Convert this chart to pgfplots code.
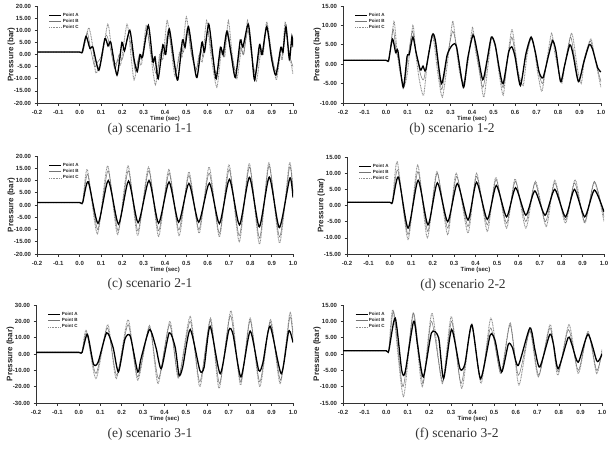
\documentclass[border=0pt]{standalone}
\usepackage{fontspec}
\setmainfont{Liberation Sans}
\newfontfamily\capfont{Liberation Serif}
\usepackage{pgfplots}
\pgfplotsset{compat=1.18}

\pgfplotsset{
  pressure/.style={
    scale only axis,
    anchor=south west,
    xmin=-0.2, xmax=1.0,
    axis x line*=bottom, axis y line*=left,
    axis line style={black!80, line width=0.6pt},
    tick align=outside,
    major tick length=2.5pt,
    tick style={black!80, line width=0.6pt},
    xtick={-0.2,-0.1,0,0.1,0.2,0.3,0.4,0.5,0.6,0.7,0.8,0.9,1.0},
    xticklabels={-0.2,-0.1,0.0,0.1,0.2,0.3,0.4,0.5,0.6,0.7,0.8,0.9,1.0},
    ticklabel style={font=\fontsize{6}{7}\selectfont\bfseries, text=black!85},
    xticklabel style={yshift=-1pt},
    xlabel={Time (sec)}, ylabel={Pressure (bar)},
    every axis x label/.style={at={(axis description cs:0.5,0)}, anchor=center,
      yshift=-16pt, font=\fontsize{6}{7}\selectfont\bfseries, text=black!85},
    every axis y label/.style={at={(axis description cs:-0.1,0.5)}, anchor=center,
      rotate=90, font=\fontsize{8}{9}\selectfont\bfseries, text=black!85},
    legend style={at={(0.045,0.94)}, anchor=north west, draw=none, fill=none,
      font=\fontsize{4.5}{5}\selectfont\bfseries, inner sep=0pt,
      nodes={inner sep=0.8pt}, text=black!85},
    legend cell align=left,
    legend image code/.code={\draw[#1] (0pt,0pt) -- (12pt,0pt);},
    reverse legend,
  },
  pA/.style={black, line width=1.3pt, smooth, tension=0.4},
  pB/.style={black!55, line width=0.5pt, smooth, tension=0.4},
  pC/.style={black!45, line width=0.9pt, dash pattern=on 0.9pt off 0.7pt, smooth, tension=0.4},
}

\begin{document}
\begin{tikzpicture}
\path[use as bounding box] (0,0) rectangle (609pt,448pt);

% (a) scenario 1-1
\begin{axis}[pressure, at={(37pt,345pt)}, width=256pt, height=97pt,
  ymin=-20, ymax=20, ytick={-20,-15,-10,-5,0,5,10,15,20},
  yticklabels={-20.00,-15.00,-10.00,-5.00,0.00,5.00,10.00,15.00,20.00}]
\addplot[pC] coordinates {(-0.2,1) (-0.1,1) (0.0,1) (0.015,1) (0.042,11) (0.06,4) (0.075,-7.5) (0.09,-5) (0.105,-1) (0.132,12.5) (0.15,2) (0.165,-4) (0.18,-2) (0.193,-4) (0.222,12.5) (0.24,0) (0.255,-10.5) (0.275,-2) (0.29,-4) (0.312,12) (0.33,2) (0.355,-12.5) (0.375,0) (0.39,-2) (0.41,14) (0.428,3) (0.447,-9) (0.468,1) (0.48,-1) (0.5,15.5) (0.52,2) (0.545,-7) (0.56,0) (0.575,-3) (0.595,14) (0.615,0) (0.643,-13.5) (0.665,2) (0.68,-1) (0.697,14) (0.715,0) (0.737,-10) (0.757,2) (0.77,0) (0.787,14) (0.805,0) (0.828,-11) (0.85,2) (0.86,0) (0.877,13.5) (0.9,0) (0.922,-10.5) (0.94,0) (0.95,-2) (0.963,13.5) (0.98,2) (1.0,-8)};
\addlegendentry{Point C}
\addplot[pB] coordinates {(-0.2,1) (-0.1,1) (0.0,1) (0.014,1) (0.035,9) (0.052,2) (0.07,-5) (0.085,-3) (0.1,-1) (0.125,8) (0.145,2) (0.165,-6) (0.185,0) (0.2,-2) (0.228,8) (0.248,0) (0.262,-7) (0.28,0) (0.29,-2) (0.316,9) (0.335,0) (0.36,-8) (0.383,2) (0.397,0) (0.415,10) (0.435,0) (0.452,-7) (0.475,3) (0.487,1) (0.505,11) (0.525,0) (0.547,-6) (0.567,2) (0.58,-1) (0.6,10) (0.62,0) (0.641,-8) (0.663,2) (0.675,-1) (0.693,10) (0.712,0) (0.733,-7) (0.755,3) (0.767,0) (0.789,10) (0.806,0) (0.825,-8) (0.847,3) (0.858,0) (0.877,11) (0.9,0) (0.92,-7) (0.943,2) (0.953,0) (0.965,10) (0.983,0) (1.0,-5)};
\addlegendentry{Point B}
\addplot[pA] coordinates {(-0.2,1) (-0.1,1) (0.0,1) (0.012,1) (0.03,7.5) (0.048,2.5) (0.062,3) (0.09,-6.5) (0.118,6.5) (0.133,3.5) (0.146,5) (0.175,-8.5) (0.198,5) (0.21,1.5) (0.235,10) (0.255,-2) (0.27,-7) (0.283,0) (0.295,-1) (0.322,12) (0.343,-3) (0.353,-1) (0.368,-10) (0.39,4) (0.403,0) (0.42,10.5) (0.443,-3) (0.46,-10.5) (0.482,6) (0.494,3) (0.51,11.5) (0.533,-2) (0.55,-9.5) (0.573,5) (0.585,1) (0.605,12.5) (0.625,-1) (0.64,-10) (0.66,3) (0.672,0) (0.69,9.5) (0.71,0) (0.73,-9.5) (0.753,6) (0.765,3) (0.79,12.5) (0.805,2) (0.82,-10.5) (0.843,4) (0.855,0) (0.877,11.5) (0.9,-2) (0.92,-8.5) (0.943,3) (0.953,1) (0.967,11.5) (0.983,-2) (0.995,7.5) (1.0,3)};
\addlegendentry{Point A}
\end{axis}

% (b) scenario 1-2
\begin{axis}[pressure, at={(343pt,345pt)}, width=258pt, height=97pt,
  ymin=-10, ymax=15, ytick={-10,-5,0,5,10,15},
  yticklabels={-10.00,-5.00,0.00,5.00,10.00,15.00}]
\addplot[pC] coordinates {(-0.2,1) (-0.1,1) (0.0,1) (0.014,1) (0.037,11) (0.05,4) (0.065,-2) (0.085,-5.5) (0.1,-2) (0.125,10) (0.14,2) (0.155,-4) (0.175,-8) (0.195,2) (0.215,7) (0.225,5) (0.24,-2) (0.262,-8.5) (0.285,0) (0.31,11) (0.325,5) (0.342,-2) (0.36,-5) (0.38,0) (0.402,9.5) (0.415,4) (0.435,-2) (0.455,-8.5) (0.475,0) (0.492,7) (0.51,4) (0.525,-2) (0.545,-8) (0.562,0) (0.585,9) (0.6,4) (0.615,-2) (0.638,-5.5) (0.655,2) (0.675,7) (0.69,4) (0.705,-2) (0.725,-7) (0.745,0) (0.77,8) (0.785,3) (0.8,-1) (0.818,-5) (0.835,1) (0.862,8) (0.875,5) (0.89,-1) (0.908,-5) (0.925,2) (0.953,6.5) (0.97,2) (0.985,-2) (1.0,-6)};
\addlegendentry{Point C}
\addplot[pB] coordinates {(-0.2,1) (-0.1,1) (0.0,1) (0.013,1) (0.033,9) (0.048,3) (0.06,1) (0.083,-6) (0.1,1) (0.123,8.5) (0.14,3) (0.16,-2.5) (0.175,-4) (0.192,1) (0.215,7.5) (0.228,5.5) (0.245,-2) (0.26,-6.5) (0.285,2) (0.31,8.5) (0.327,5) (0.345,-1) (0.36,-5) (0.38,1) (0.404,8) (0.42,3.5) (0.45,-6) (0.472,1) (0.49,7) (0.508,4.5) (0.527,-1.5) (0.545,-6) (0.568,2) (0.585,7) (0.6,3) (0.625,-5) (0.65,2) (0.675,6.5) (0.692,3.5) (0.71,-2) (0.728,-5) (0.75,1) (0.773,6.5) (0.79,3.5) (0.813,-4.5) (0.832,0) (0.858,7) (0.873,3) (0.897,-4.5) (0.92,1) (0.95,6) (0.965,3) (0.985,-1.5) (1.0,-4.5)};
\addlegendentry{Point B}
\addplot[pA] coordinates {(-0.2,1) (-0.1,1) (0.0,1) (0.012,1) (0.03,6.5) (0.045,3) (0.055,3.5) (0.08,-6) (0.098,2) (0.108,2.5) (0.125,7) (0.14,3) (0.16,-1.5) (0.172,-0.5) (0.185,-1.5) (0.215,7.5) (0.23,6) (0.258,-5) (0.285,2.5) (0.31,5) (0.328,4.5) (0.36,-6) (0.38,1.5) (0.405,7.5) (0.425,3) (0.45,-4) (0.47,1) (0.49,7) (0.508,5) (0.528,-1.5) (0.545,-5) (0.57,3) (0.585,4.5) (0.6,2) (0.625,-5.5) (0.65,2.5) (0.675,7) (0.695,3) (0.712,-2) (0.73,-3.5) (0.755,2) (0.775,6) (0.79,3.5) (0.812,-4.5) (0.83,-0.5) (0.855,5) (0.87,2.5) (0.895,-4.5) (0.92,0.5) (0.945,5) (0.96,4) (0.985,-1) (1.0,-2)};
\addlegendentry{Point A}
\end{axis}

% (c) scenario 2-1
\begin{axis}[pressure, at={(37pt,194pt)}, width=256pt, height=98pt,
  ymin=-20, ymax=20, ytick={-20,-15,-10,-5,0,5,10,15,20},
  yticklabels={-20.00,-15.00,-10.00,-5.00,0.00,5.00,10.00,15.00,20.00}]
\addplot[pC] coordinates {(-0.2,1) (-0.1,1) (0.0,1) (0.014,1) (0.036,14.5) (0.083,-11.8) (0.131,16) (0.178,-12) (0.227,16) (0.272,-12.5) (0.323,15.5) (0.37,-12.8) (0.418,14.5) (0.466,-12.5) (0.512,13.5) (0.56,-11.5) (0.607,15.5) (0.655,-13) (0.7,16.5) (0.748,-15) (0.795,17) (0.843,-16) (0.887,17.2) (0.937,-15.5) (0.983,17) (1.0,6)};
\addlegendentry{Point C}
\addplot[pB] coordinates {(-0.2,1) (-0.1,1) (0.0,1) (0.014,1) (0.038,12.5) (0.085,-10) (0.133,14) (0.18,-10.5) (0.228,14) (0.273,-10.5) (0.324,14) (0.37,-10.5) (0.419,13) (0.465,-10.2) (0.512,12) (0.559,-10) (0.607,13) (0.655,-11.5) (0.701,14.5) (0.748,-12.5) (0.796,15.5) (0.843,-13.5) (0.888,16) (0.937,-13) (0.984,15.5) (1.0,5)};
\addlegendentry{Point B}
\addplot[pA] coordinates {(-0.2,1) (-0.1,1) (0.0,1) (0.014,1) (0.04,9.5) (0.086,-7.5) (0.134,10) (0.182,-7.8) (0.229,9.8) (0.274,-7.2) (0.325,10) (0.37,-7.4) (0.419,9.4) (0.464,-7) (0.512,8.8) (0.558,-7) (0.608,8.9) (0.655,-7.6) (0.702,10.5) (0.749,-8.1) (0.796,11.3) (0.842,-8.9) (0.889,11.4) (0.936,-9.2) (0.985,11) (1.0,3)};
\addlegendentry{Point A}
\end{axis}

% (d) scenario 2-2
\begin{axis}[pressure, at={(347pt,194pt)}, width=257pt, height=97pt,
  ymin=-15, ymax=15, ytick={-15,-10,-5,0,5,10,15},
  yticklabels={-15.00,-10.00,-5.00,0.00,5.00,10.00,15.00}]
\addplot[pC] coordinates {(-0.2,1) (-0.1,1) (0.0,1) (0.012,1) (0.035,13.5) (0.085,-10.5) (0.13,12.5) (0.175,-10) (0.22,10.5) (0.27,-9) (0.31,10) (0.365,-8.5) (0.405,10) (0.455,-8) (0.495,8.7) (0.545,-7) (0.585,8.2) (0.635,-7) (0.68,7.5) (0.73,-6.5) (0.77,7.8) (0.82,-5.5) (0.865,8) (0.91,-5.5) (0.955,7.2) (1.0,-5)};
\addlegendentry{Point C}
\addplot[pB] coordinates {(-0.2,1) (-0.1,1) (0.0,1) (0.012,1) (0.037,11) (0.085,-9) (0.131,10.5) (0.177,-8) (0.221,10) (0.27,-7) (0.312,9) (0.365,-6.5) (0.405,9) (0.455,-6) (0.496,8) (0.545,-5.5) (0.586,7.5) (0.635,-5) (0.678,7) (0.727,-5) (0.77,7) (0.82,-4.5) (0.863,7) (0.91,-5) (0.955,7.5) (1.0,-3.5)};
\addlegendentry{Point B}
\addplot[pA] coordinates {(-0.2,1) (-0.1,1) (0.0,1) (0.012,1) (0.04,8.8) (0.085,-7) (0.132,7.8) (0.178,-6) (0.222,7) (0.27,-5) (0.315,6.8) (0.365,-4.5) (0.405,7.2) (0.455,-4.3) (0.497,6.2) (0.545,-3.5) (0.587,5.5) (0.635,-3) (0.677,4.5) (0.725,-3) (0.77,5) (0.82,-3.5) (0.862,5) (0.91,-3.5) (0.955,4.8) (1.0,-2)};
\addlegendentry{Point A}
\end{axis}

% (e) scenario 3-1
\begin{axis}[pressure, at={(36pt,45pt)}, width=257pt, height=98pt,
  ymin=-30, ymax=30, ytick={-30,-20,-10,0,10,20,30},
  yticklabels={-30.00,-20.00,-10.00,0.00,10.00,20.00,30.00}]
\addplot[pC] coordinates {(-0.2,1) (-0.1,1) (0.0,1) (0.015,1) (0.035,14.5) (0.08,-15) (0.135,18) (0.175,-15) (0.23,21) (0.275,-16) (0.33,17.5) (0.37,-18) (0.425,20) (0.465,-15) (0.52,23) (0.565,-20) (0.615,22) (0.655,-21) (0.71,26.5) (0.755,-19) (0.8,22) (0.845,-20) (0.895,21) (0.94,-18) (0.985,25) (1.0,12)};
\addlegendentry{Point C}
\addplot[pB] coordinates {(-0.2,1) (-0.1,1) (0.0,1) (0.015,1) (0.037,13) (0.08,-12) (0.133,16) (0.177,-13) (0.23,18) (0.275,-14) (0.33,16.5) (0.372,-15) (0.424,18) (0.466,-14) (0.52,20) (0.565,-17) (0.614,20.5) (0.657,-18) (0.708,23.5) (0.756,-17) (0.8,20.5) (0.845,-17) (0.894,19.5) (0.942,-16) (0.985,22.5) (1.0,10)};
\addlegendentry{Point B}
\addplot[pA] coordinates {(-0.2,1) (-0.1,1) (0.0,1) (0.015,1) (0.04,12) (0.068,-6) (0.09,-5) (0.13,13) (0.16,4) (0.185,-11) (0.215,9) (0.24,11) (0.275,-11) (0.29,-3) (0.33,15) (0.36,4) (0.385,-9) (0.422,13) (0.45,4) (0.468,-13) (0.485,-8) (0.52,15) (0.565,-10) (0.585,-8) (0.613,17) (0.66,-12) (0.7,14.5) (0.72,12) (0.757,-14) (0.8,14) (0.84,-10) (0.86,-5) (0.893,17) (0.945,-12) (0.98,14) (1.0,7)};
\addlegendentry{Point A}
\end{axis}

% (f) scenario 3-2
\begin{axis}[pressure, at={(343pt,45pt)}, width=259pt, height=98pt,
  ymin=-15, ymax=15, ytick={-15,-10,-5,0,5,10,15},
  yticklabels={-15.00,-10.00,-5.00,0.00,5.00,10.00,15.00}]
\addplot[pC] coordinates {(-0.2,1) (-0.1,1) (0.0,1) (0.012,1) (0.032,13.5) (0.08,-13) (0.125,12.5) (0.167,-10) (0.212,12.5) (0.26,-9) (0.302,11.5) (0.35,-10.5) (0.395,9) (0.44,-9) (0.485,11) (0.53,-6) (0.575,9.5) (0.615,-9.5) (0.665,7.5) (0.705,-7) (0.76,9) (0.795,-6.5) (0.847,9) (0.89,-6) (0.935,7) (0.975,-6) (1.0,1.5)};
\addlegendentry{Point C}
\addplot[pB] coordinates {(-0.2,1) (-0.1,1) (0.0,1) (0.012,1) (0.035,13) (0.078,-10) (0.127,12.5) (0.17,-9) (0.21,10) (0.262,-8.5) (0.303,10) (0.347,-9) (0.396,8.5) (0.438,-8) (0.484,8) (0.532,-6) (0.574,9) (0.613,-6.5) (0.666,7) (0.707,-6.5) (0.759,8) (0.797,-5.5) (0.845,7.5) (0.89,-5) (0.935,6.5) (0.975,-5) (1.0,0.5)};
\addlegendentry{Point B}
\addplot[pA] coordinates {(-0.2,1) (-0.1,1) (0.0,1) (0.012,1) (0.042,11) (0.072,-5) (0.088,-5.5) (0.127,10) (0.145,3) (0.172,-7) (0.21,6.5) (0.243,5) (0.266,-7.5) (0.303,7.5) (0.342,-4.5) (0.365,-3) (0.397,9) (0.437,-7.5) (0.482,5.8) (0.505,4) (0.535,-5.5) (0.566,3) (0.585,2) (0.612,-3.5) (0.666,8) (0.69,1) (0.712,-4) (0.758,6) (0.775,3) (0.797,-4.5) (0.843,5) (0.86,3) (0.89,-2.5) (0.935,6) (0.975,-2) (0.99,-1.5) (1.0,0)};
\addlegendentry{Point A}
\end{axis}

% captions
\begin{scope}[every node/.style={font=\capfont\fontsize{13.5}{16}\selectfont, text=black!80}]
\node at (150pt,319pt) {(a) scenario 1-1};
\node at (452pt,319pt) {(b) scenario 1-2};
\node at (150pt,164pt) {(c) scenario 2-1};
\node at (463pt,163pt) {(d) scenario 2-2};
\node at (150pt,14pt) {(e) scenario 3-1};
\node at (457pt,14pt) {(f) scenario 3-2};
\end{scope}
\end{tikzpicture}
\end{document}
